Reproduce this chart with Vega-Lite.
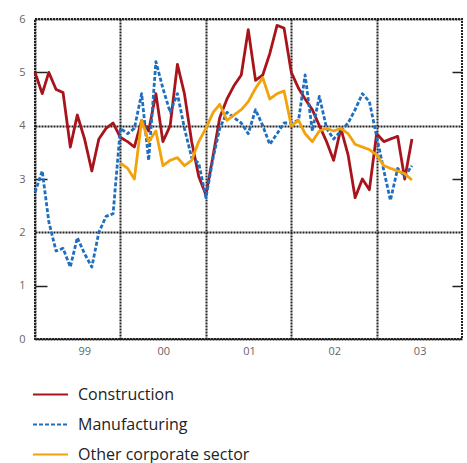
{
  "$schema": "https://vega.github.io/schema/vega-lite/v6.json",
  "width": 427,
  "height": 320,
  "autosize": {"type": "none"},
  "padding": {"left": 35, "top": 19, "right": 5, "bottom": 124},
  "background": "white",
  "config": {
    "view": {"stroke": "#222", "strokeDash": [2, 1], "strokeWidth": 2},
    "font": "Open Sans"
  },
  "datasets": {
    "series": [
      {"d": "1999-01-01", "s": "Construction", "v": 5.0},
      {"d": "1999-02-01", "s": "Construction", "v": 4.6},
      {"d": "1999-03-01", "s": "Construction", "v": 5.0},
      {"d": "1999-04-01", "s": "Construction", "v": 4.68},
      {"d": "1999-05-01", "s": "Construction", "v": 4.62},
      {"d": "1999-06-01", "s": "Construction", "v": 3.6},
      {"d": "1999-07-01", "s": "Construction", "v": 4.2},
      {"d": "1999-08-01", "s": "Construction", "v": 3.75},
      {"d": "1999-09-01", "s": "Construction", "v": 3.15},
      {"d": "1999-10-01", "s": "Construction", "v": 3.75},
      {"d": "1999-11-01", "s": "Construction", "v": 3.95},
      {"d": "1999-12-01", "s": "Construction", "v": 4.05},
      {"d": "2000-01-01", "s": "Construction", "v": 3.78},
      {"d": "2000-02-01", "s": "Construction", "v": 3.7},
      {"d": "2000-03-01", "s": "Construction", "v": 3.6},
      {"d": "2000-04-01", "s": "Construction", "v": 4.1},
      {"d": "2000-05-01", "s": "Construction", "v": 3.9},
      {"d": "2000-06-01", "s": "Construction", "v": 4.6},
      {"d": "2000-07-01", "s": "Construction", "v": 3.7},
      {"d": "2000-08-01", "s": "Construction", "v": 4.0},
      {"d": "2000-09-01", "s": "Construction", "v": 5.15},
      {"d": "2000-10-01", "s": "Construction", "v": 4.6},
      {"d": "2000-11-01", "s": "Construction", "v": 3.7},
      {"d": "2000-12-01", "s": "Construction", "v": 3.05},
      {"d": "2001-01-01", "s": "Construction", "v": 2.7},
      {"d": "2001-02-01", "s": "Construction", "v": 3.45},
      {"d": "2001-03-01", "s": "Construction", "v": 4.15},
      {"d": "2001-04-01", "s": "Construction", "v": 4.5},
      {"d": "2001-05-01", "s": "Construction", "v": 4.75},
      {"d": "2001-06-01", "s": "Construction", "v": 4.95},
      {"d": "2001-07-01", "s": "Construction", "v": 5.8},
      {"d": "2001-08-01", "s": "Construction", "v": 4.85},
      {"d": "2001-09-01", "s": "Construction", "v": 4.95},
      {"d": "2001-10-01", "s": "Construction", "v": 5.35},
      {"d": "2001-11-01", "s": "Construction", "v": 5.88},
      {"d": "2001-12-01", "s": "Construction", "v": 5.83},
      {"d": "2002-01-01", "s": "Construction", "v": 5.0},
      {"d": "2002-02-01", "s": "Construction", "v": 4.7},
      {"d": "2002-03-01", "s": "Construction", "v": 4.5},
      {"d": "2002-04-01", "s": "Construction", "v": 4.3},
      {"d": "2002-05-01", "s": "Construction", "v": 4.0},
      {"d": "2002-06-01", "s": "Construction", "v": 3.7},
      {"d": "2002-07-01", "s": "Construction", "v": 3.35},
      {"d": "2002-08-01", "s": "Construction", "v": 3.95},
      {"d": "2002-09-01", "s": "Construction", "v": 3.45},
      {"d": "2002-10-01", "s": "Construction", "v": 2.65},
      {"d": "2002-11-01", "s": "Construction", "v": 3.0},
      {"d": "2002-12-01", "s": "Construction", "v": 2.8},
      {"d": "2003-01-01", "s": "Construction", "v": 3.85},
      {"d": "2003-02-01", "s": "Construction", "v": 3.7},
      {"d": "2003-03-01", "s": "Construction", "v": 3.75},
      {"d": "2003-04-01", "s": "Construction", "v": 3.8},
      {"d": "2003-05-01", "s": "Construction", "v": 3.0},
      {"d": "2003-06-01", "s": "Construction", "v": 3.75},

      {"d": "1999-01-01", "s": "Manufacturing", "v": 2.75},
      {"d": "1999-02-01", "s": "Manufacturing", "v": 3.15},
      {"d": "1999-03-01", "s": "Manufacturing", "v": 2.2},
      {"d": "1999-04-01", "s": "Manufacturing", "v": 1.65},
      {"d": "1999-05-01", "s": "Manufacturing", "v": 1.7},
      {"d": "1999-06-01", "s": "Manufacturing", "v": 1.35},
      {"d": "1999-07-01", "s": "Manufacturing", "v": 1.9},
      {"d": "1999-08-01", "s": "Manufacturing", "v": 1.6},
      {"d": "1999-09-01", "s": "Manufacturing", "v": 1.35},
      {"d": "1999-10-01", "s": "Manufacturing", "v": 2.0},
      {"d": "1999-11-01", "s": "Manufacturing", "v": 2.3},
      {"d": "1999-12-01", "s": "Manufacturing", "v": 2.35},
      {"d": "2000-01-01", "s": "Manufacturing", "v": 3.95},
      {"d": "2000-02-01", "s": "Manufacturing", "v": 3.85},
      {"d": "2000-03-01", "s": "Manufacturing", "v": 3.95},
      {"d": "2000-04-01", "s": "Manufacturing", "v": 4.6},
      {"d": "2000-05-01", "s": "Manufacturing", "v": 3.35},
      {"d": "2000-06-01", "s": "Manufacturing", "v": 5.2},
      {"d": "2000-07-01", "s": "Manufacturing", "v": 4.7},
      {"d": "2000-08-01", "s": "Manufacturing", "v": 4.25},
      {"d": "2000-09-01", "s": "Manufacturing", "v": 4.6},
      {"d": "2000-10-01", "s": "Manufacturing", "v": 3.95},
      {"d": "2000-11-01", "s": "Manufacturing", "v": 3.4},
      {"d": "2000-12-01", "s": "Manufacturing", "v": 3.3},
      {"d": "2001-01-01", "s": "Manufacturing", "v": 2.65},
      {"d": "2001-02-01", "s": "Manufacturing", "v": 3.4},
      {"d": "2001-03-01", "s": "Manufacturing", "v": 3.95},
      {"d": "2001-04-01", "s": "Manufacturing", "v": 4.25},
      {"d": "2001-05-01", "s": "Manufacturing", "v": 4.15},
      {"d": "2001-06-01", "s": "Manufacturing", "v": 4.05},
      {"d": "2001-07-01", "s": "Manufacturing", "v": 3.85},
      {"d": "2001-08-01", "s": "Manufacturing", "v": 4.3},
      {"d": "2001-09-01", "s": "Manufacturing", "v": 4.0},
      {"d": "2001-10-01", "s": "Manufacturing", "v": 3.65},
      {"d": "2001-11-01", "s": "Manufacturing", "v": 3.85},
      {"d": "2001-12-01", "s": "Manufacturing", "v": 4.05},
      {"d": "2002-01-01", "s": "Manufacturing", "v": 4.05},
      {"d": "2002-02-01", "s": "Manufacturing", "v": 4.1},
      {"d": "2002-03-01", "s": "Manufacturing", "v": 4.95},
      {"d": "2002-04-01", "s": "Manufacturing", "v": 3.9},
      {"d": "2002-05-01", "s": "Manufacturing", "v": 4.55},
      {"d": "2002-06-01", "s": "Manufacturing", "v": 3.95},
      {"d": "2002-07-01", "s": "Manufacturing", "v": 3.75},
      {"d": "2002-08-01", "s": "Manufacturing", "v": 3.9},
      {"d": "2002-09-01", "s": "Manufacturing", "v": 4.05},
      {"d": "2002-10-01", "s": "Manufacturing", "v": 4.3},
      {"d": "2002-11-01", "s": "Manufacturing", "v": 4.6},
      {"d": "2002-12-01", "s": "Manufacturing", "v": 4.45},
      {"d": "2003-01-01", "s": "Manufacturing", "v": 3.8},
      {"d": "2003-02-01", "s": "Manufacturing", "v": 3.15},
      {"d": "2003-03-01", "s": "Manufacturing", "v": 2.6},
      {"d": "2003-04-01", "s": "Manufacturing", "v": 3.2},
      {"d": "2003-05-01", "s": "Manufacturing", "v": 3.05},
      {"d": "2003-06-01", "s": "Manufacturing", "v": 3.25},

      {"d": "2000-01-01", "s": "Other corporate sector", "v": 3.3},
      {"d": "2000-02-01", "s": "Other corporate sector", "v": 3.2},
      {"d": "2000-03-01", "s": "Other corporate sector", "v": 3.0},
      {"d": "2000-04-01", "s": "Other corporate sector", "v": 4.1},
      {"d": "2000-05-01", "s": "Other corporate sector", "v": 3.7},
      {"d": "2000-06-01", "s": "Other corporate sector", "v": 3.9},
      {"d": "2000-07-01", "s": "Other corporate sector", "v": 3.25},
      {"d": "2000-08-01", "s": "Other corporate sector", "v": 3.35},
      {"d": "2000-09-01", "s": "Other corporate sector", "v": 3.4},
      {"d": "2000-10-01", "s": "Other corporate sector", "v": 3.25},
      {"d": "2000-11-01", "s": "Other corporate sector", "v": 3.35},
      {"d": "2000-12-01", "s": "Other corporate sector", "v": 3.7},
      {"d": "2001-01-01", "s": "Other corporate sector", "v": 3.95},
      {"d": "2001-02-01", "s": "Other corporate sector", "v": 4.25},
      {"d": "2001-03-01", "s": "Other corporate sector", "v": 4.4},
      {"d": "2001-04-01", "s": "Other corporate sector", "v": 4.1},
      {"d": "2001-05-01", "s": "Other corporate sector", "v": 4.2},
      {"d": "2001-06-01", "s": "Other corporate sector", "v": 4.3},
      {"d": "2001-07-01", "s": "Other corporate sector", "v": 4.45},
      {"d": "2001-08-01", "s": "Other corporate sector", "v": 4.7},
      {"d": "2001-09-01", "s": "Other corporate sector", "v": 4.9},
      {"d": "2001-10-01", "s": "Other corporate sector", "v": 4.5},
      {"d": "2001-11-01", "s": "Other corporate sector", "v": 4.6},
      {"d": "2001-12-01", "s": "Other corporate sector", "v": 4.65},
      {"d": "2002-01-01", "s": "Other corporate sector", "v": 4.0},
      {"d": "2002-02-01", "s": "Other corporate sector", "v": 4.1},
      {"d": "2002-03-01", "s": "Other corporate sector", "v": 3.85},
      {"d": "2002-04-01", "s": "Other corporate sector", "v": 3.7},
      {"d": "2002-05-01", "s": "Other corporate sector", "v": 3.9},
      {"d": "2002-06-01", "s": "Other corporate sector", "v": 3.95},
      {"d": "2002-07-01", "s": "Other corporate sector", "v": 3.9},
      {"d": "2002-08-01", "s": "Other corporate sector", "v": 3.95},
      {"d": "2002-09-01", "s": "Other corporate sector", "v": 3.85},
      {"d": "2002-10-01", "s": "Other corporate sector", "v": 3.65},
      {"d": "2002-11-01", "s": "Other corporate sector", "v": 3.6},
      {"d": "2002-12-01", "s": "Other corporate sector", "v": 3.55},
      {"d": "2003-01-01", "s": "Other corporate sector", "v": 3.45},
      {"d": "2003-02-01", "s": "Other corporate sector", "v": 3.25},
      {"d": "2003-03-01", "s": "Other corporate sector", "v": 3.2},
      {"d": "2003-04-01", "s": "Other corporate sector", "v": 3.15},
      {"d": "2003-05-01", "s": "Other corporate sector", "v": 3.1},
      {"d": "2003-06-01", "s": "Other corporate sector", "v": 2.98}
    ]
  },
  "data": {"name": "series"},
  "resolve": {"axis": {"y": "independent"}},
  "layer": [
    {
      "mark": {"type": "line", "strokeWidth": 2.8, "strokeJoin": "round"},
      "encoding": {
        "x": {
          "field": "d",
          "type": "temporal",
          "scale": {"type": "utc", "domain": ["1999-01-01", "2004-01-01"]},
          "axis": {
            "title": null,
            "values": [
              {"year": 1999, "month": 1, "date": 1, "utc": true},
              {"year": 2000, "month": 1, "date": 1, "utc": true},
              {"year": 2001, "month": 1, "date": 1, "utc": true},
              {"year": 2002, "month": 1, "date": 1, "utc": true},
              {"year": 2003, "month": 1, "date": 1, "utc": true}
            ],
            "format": "%y",
            "labelOffset": 43,
            "labelPadding": 6,
            "labelFontSize": 11,
            "labelColor": "#666",
            "ticks": false,
            "domain": false,
            "grid": true,
            "gridColor": "#222",
            "gridDash": [2, 1],
            "gridWidth": 2
          }
        },
        "y": {
          "field": "v",
          "type": "quantitative",
          "scale": {"domain": [0, 6], "nice": false, "zero": true},
          "axis": {
            "title": null,
            "values": [0, 1, 2, 3, 4, 5, 6],
            "domain": false,
            "grid": true,
            "gridColor": "#222",
            "gridDash": [2, 1],
            "gridWidth": 2,
            "gridOpacity": {"condition": {"test": "datum.value % 2 === 0", "value": 1}, "value": 0},
            "ticks": true,
            "tickSize": -12,
            "tickColor": "#222",
            "tickWidth": 1.5,
            "tickOpacity": {"condition": {"test": "datum.value % 2 === 1", "value": 1}, "value": 0},
            "labelPadding": 22,
            "labelFontSize": 11,
            "labelColor": "#666"
          }
        },
        "color": {
          "field": "s",
          "type": "nominal",
          "scale": {
            "domain": ["Construction", "Manufacturing", "Other corporate sector"],
            "range": ["#a8141c", "#1f6fc0", "#f2a20c"]
          },
          "legend": {
            "title": null,
            "orient": "none",
            "legendX": -3,
            "legendY": 357,
            "direction": "vertical",
            "symbolType": "stroke",
            "symbolSize": 1225,
            "symbolStrokeWidth": 2,
            "labelFont": "Open Sans",
            "labelFontSize": 16,
            "labelColor": "#222",
            "labelOffset": 9,
            "labelLimit": 0,
            "rowPadding": 3
          }
        },
        "strokeDash": {
          "field": "s",
          "type": "nominal",
          "scale": {
            "domain": ["Construction", "Manufacturing", "Other corporate sector"],
            "range": [[1, 0], [4, 2], [1, 0]]
          },
          "legend": {
            "title": null,
            "orient": "none",
            "legendX": -3,
            "legendY": 357,
            "direction": "vertical",
            "symbolType": "stroke",
            "symbolSize": 1225,
            "symbolStrokeWidth": 2,
            "labelFont": "Open Sans",
            "labelFontSize": 16,
            "labelColor": "#222",
            "labelOffset": 9,
            "labelLimit": 0,
            "rowPadding": 3
          }
        }
      }
    },
    {
      "mark": {"type": "rule", "opacity": 0},
      "encoding": {
        "y": {
          "field": "v",
          "type": "quantitative",
          "scale": {"domain": [0, 6], "nice": false, "zero": true},
          "axis": {
            "orient": "right",
            "title": null,
            "values": [1, 3, 5],
            "labels": false,
            "domain": false,
            "grid": false,
            "ticks": true,
            "tickSize": -10,
            "tickColor": "#222",
            "tickWidth": 1.5
          }
        }
      }
    }
  ]
}
